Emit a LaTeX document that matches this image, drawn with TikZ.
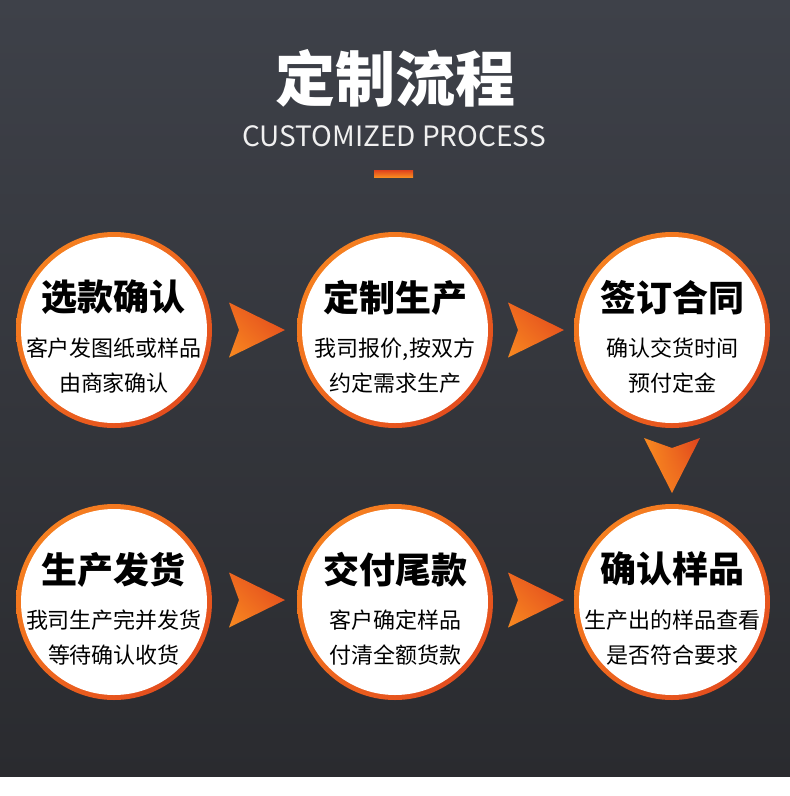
\documentclass[tikz,border=0pt]{standalone}
\usepackage{fontspec}
\setmainfont{Noto Sans CJK SC}
\usetikzlibrary{positioning,calc,shadings}

\definecolor{bgtop}{HTML}{3E4149}
\definecolor{bgbottom}{HTML}{2A2B2F}
\definecolor{ringlight}{HTML}{F88A20}
\definecolor{ringmid}{HTML}{EE671F}
\definecolor{ringdark}{HTML}{DF421D}

\tikzset{
    chevright/.pic={
        \shade[upper left=ringmid, lower left=ringlight, upper right=ringdark, lower right=ringmid]
            (-25.5,-27.5) -- (30.5,0) -- (-25.5,27.5) -- (-15.5,0) -- cycle;
    },
    chevdown/.pic={
        \shade[upper left=ringlight, lower left=ringlight, upper right=ringdark, lower right=ringmid]
            (-28,-28) -- (0,-18) -- (28,-28) -- (0,27) -- cycle;
    }
}

\begin{document}
\begin{tikzpicture}[
    x=1pt, y=-1pt,
    stepcircle/.style={circle, minimum size=196pt, inner sep=0pt, path picture={
        \shade[upper left=ringlight, upper right=ringmid, lower left=ringmid, lower right=ringdark]
            (path picture bounding box.south west) rectangle (path picture bounding box.north east);
        \fill[white] (path picture bounding box.center) circle (93pt);
    }},
    steptext/.style={align=center, inner sep=0pt, font=\fontsize{22pt}{35pt}\selectfont, text=black},
    steptitle/.style={font=\fontsize{36pt}{36pt}\selectfont\bfseries}
]

\fill[white] (0,0) rectangle (790,796);
\useasboundingbox (0,0) rectangle (790,796);
\shade[top color=bgtop, bottom color=bgbottom] (0,0) rectangle (790,776);

% Heading
\node[font=\fontsize{60pt}{60pt}\selectfont\bfseries, text=white, inner sep=0pt] (title) at (395,78) {定制流程};
\node[font=\fontsize{28pt}{30pt}\selectfont, text=white!94!black, inner sep=0pt] (english) at (394,136) {CUSTOMIZED PROCESS};
\node[inner sep=0pt, minimum width=39pt, minimum height=7pt, top color=ringdark, bottom color=ringlight] (bar) at (393.5,173.5) {};

% Steps
\node[stepcircle] (select) at (114,330) {};
\node[steptext] at ([yshift=-6.7pt]select.center) {{\fontsize{36pt}{36pt}\selectfont\bfseries 选款确认}\\[10.7pt]客户发图纸或样品\\由商家确认};

\node[stepcircle] (produce) at (395,330) {};
\node[steptext] at ([yshift=-6.7pt]produce.center) {{\fontsize{36pt}{36pt}\selectfont\bfseries 定制生产}\\[10.7pt]我司报价,按双方\\约定需求生产};

\node[stepcircle] (sign) at (672,330) {};
\node[steptext] at ([yshift=-6.7pt]sign.center) {{\fontsize{36pt}{36pt}\selectfont\bfseries 签订合同}\\[10.7pt]确认交货时间\\预付定金};

\node[stepcircle] (confirm) at (672,602) {};
\node[steptext] at ([yshift=-6.7pt]confirm.center) {{\fontsize{36pt}{36pt}\selectfont\bfseries 确认样品}\\[10.7pt]生产出的样品查看\\是否符合要求};

\node[stepcircle] (pay) at (395,602) {};
\node[steptext] at ([yshift=-6.7pt]pay.center) {{\fontsize{36pt}{36pt}\selectfont\bfseries 交付尾款}\\[10.7pt]客户确定样品\\付清全额货款};

\node[stepcircle] (ship) at (114,602) {};
\node[steptext] at ([yshift=-6.7pt]ship.center) {{\fontsize{36pt}{36pt}\selectfont\bfseries 生产发货}\\[10.7pt]我司生产完并发货\\等待确认收货};

% Arrows
\pic at ($(select.east)!0.5!(produce.west)$) {chevright};
\pic at ($(produce.east)!0.5!(sign.west)$) {chevright};
\pic at ($(sign.south)!0.5!(confirm.north)$) {chevdown};
\pic at ([yshift=2pt]$(ship.east)!0.5!(pay.west)$) {chevright};
\pic at ([yshift=2pt]$(pay.east)!0.5!(confirm.west)$) {chevright};

\end{tikzpicture}
\end{document}
